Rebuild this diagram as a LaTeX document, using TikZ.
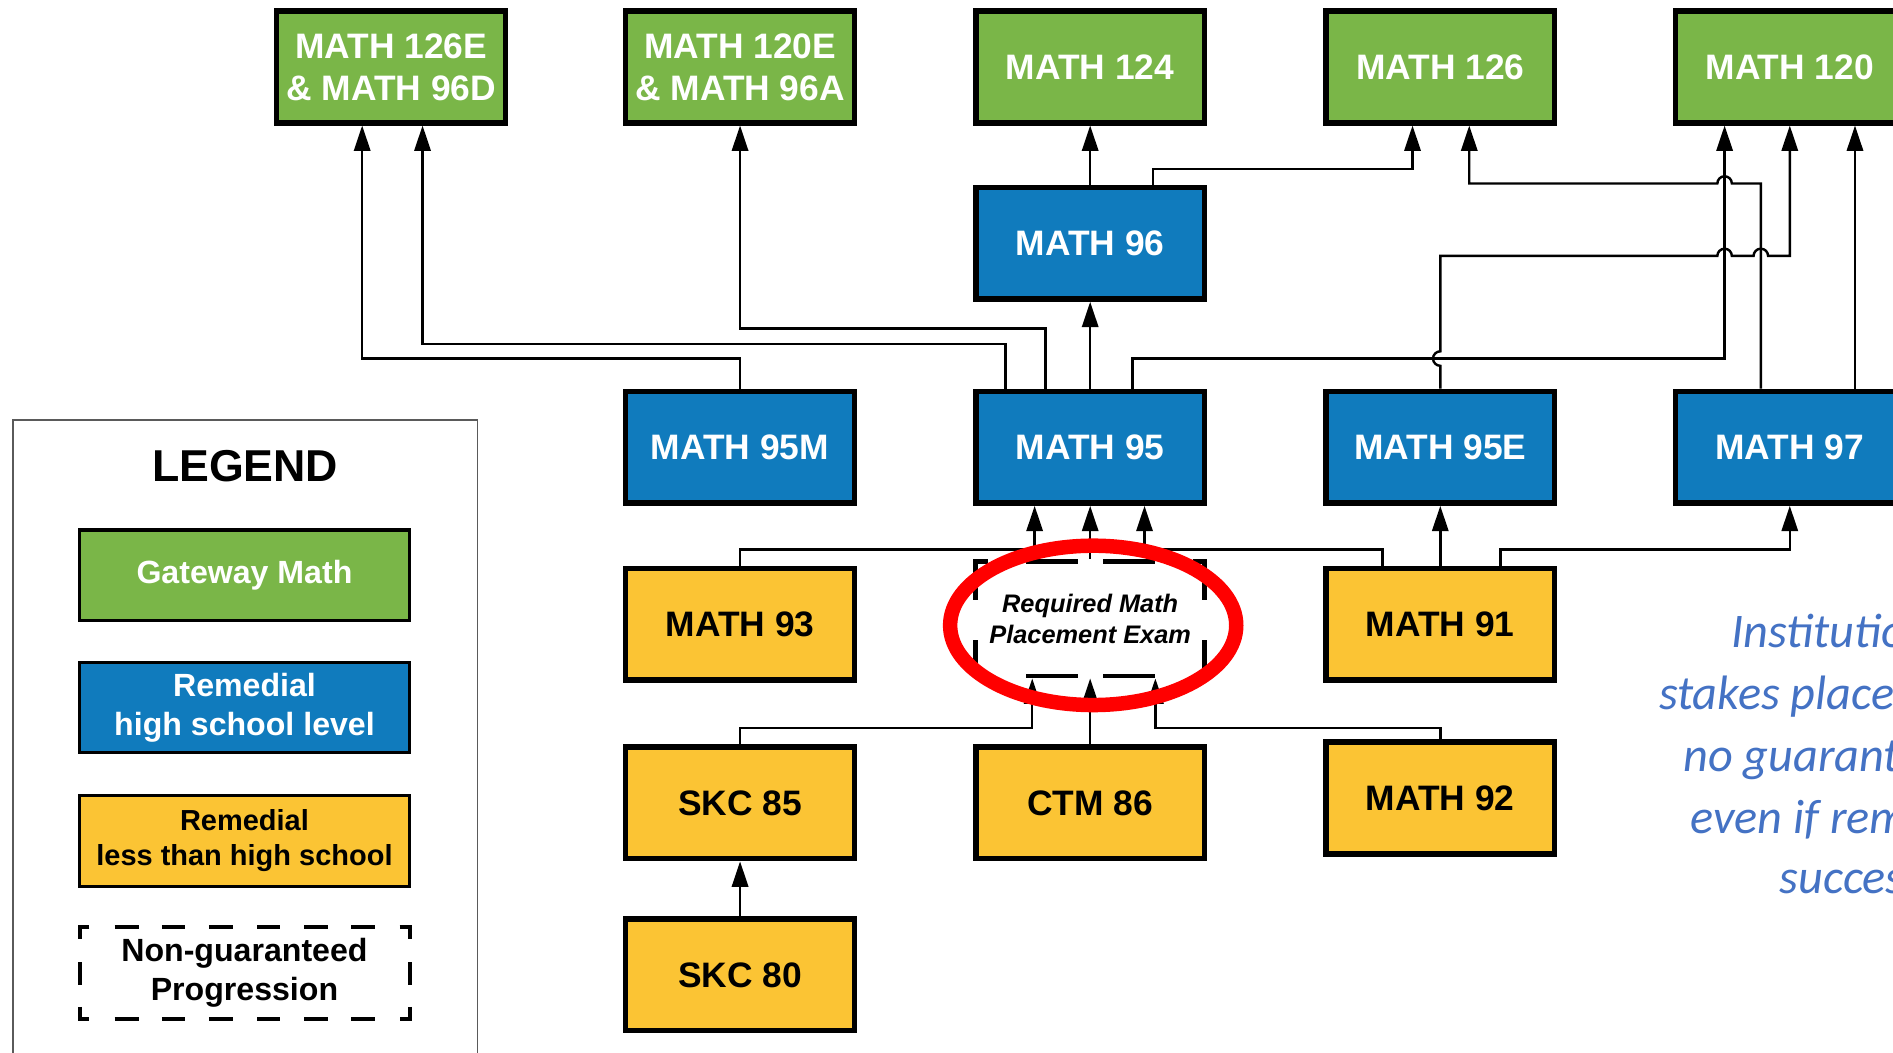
\documentclass[tikz,border=0pt]{standalone}
\usepackage{fontspec}
\setmainfont{Liberation Sans}
\newfontfamily\calibfont{Carlito}
\usetikzlibrary{arrows.meta}
\definecolor{gwgreen}{RGB}{122,182,72}
\definecolor{remblue}{RGB}{16,123,189}
\definecolor{lowyellow}{RGB}{251,196,52}
\definecolor{notecol}{RGB}{68,114,196}
\definecolor{legline}{RGB}{90,90,90}
\tikzset{
  box/.style={draw=black, line width=4.5pt, minimum width=189.5pt, minimum height=92.5pt,
    inner sep=0pt, align=center, font=\fontsize{29.3}{35}\selectfont\bfseries},
  gw/.style={box, fill=gwgreen, text=white},
  rem/.style={box, fill=remblue, text=white},
  low/.style={box, fill=lowyellow, text=black},
  legbox/.style={draw=black, line width=2.5pt, minimum width=274pt, minimum height=75pt,
    inner sep=0pt, align=center, font=\fontsize{26.6}{32}\selectfont\bfseries},
  conn/.style={line width=2pt, -{Triangle[length=21pt,width=13.5pt]}},
  dashseg/.style={line width=4pt, line join=miter},
  legdash/.style={line width=3.5pt, line join=miter},
  note/.style={anchor=base west, inner sep=0pt, text=notecol,
    font=\calibfont\itshape\fontsize{40}{51}\selectfont}
}
\begin{document}
\begin{tikzpicture}[x=1pt, y=-1pt]
\useasboundingbox (0,0) rectangle (1568,872);
\clip (0,0) rectangle (1568,872);

% ---------- legend ----------
\draw[line width=1.5pt, draw=legline] (10.5,348) rectangle (395.5,900);
\node[font=\fontsize{37}{44}\selectfont\bfseries] (legtitle) at (203,386) {LEGEND};
\node[legbox, fill=gwgreen, text=white] (lgw) at (202.5,476.5) {Gateway Math};
\node[legbox, fill=remblue, text=white] (lrem) at (202.5,586) {Remedial\\high school level};
\node[legbox, fill=lowyellow, text=black, font=\fontsize{24}{29}\selectfont\bfseries] (llow) at (202.5,696.5) {Remedial\\less than high school};
\node[legbox, draw=none] (ldash) at (202.5,806) {Non-guaranteed\\Progression};
% dashed legend frame
\draw[legdash] (74,768) -- (66,768) -- (66,778);
\draw[legdash] (331,768) -- (339.5,768) -- (339.5,778);
\draw[legdash] (66,834) -- (66,844) -- (74,844);
\draw[legdash] (339.5,834) -- (339.5,844) -- (331,844);
\foreach \a/\b in {95/115,134/153,173/193,213/232,252/272,291/311}{
  \draw[legdash] (\a,768) -- (\b,768);
  \draw[legdash] (\a,844) -- (\b,844);
}
\draw[legdash] (66,797) -- (66,816);
\draw[legdash] (339.5,797) -- (339.5,816);

% ---------- course boxes ----------
\node[gw] (m126e) at (324,55.5) {MATH 126E\\\& MATH 96D};
\node[gw] (m120e) at (613,55.5) {MATH 120E\\\& MATH 96A};
\node[gw] (m124) at (903,55.5) {MATH 124};
\node[gw] (m126) at (1193,55.5) {MATH 126};
\node[gw] (m120) at (1482.5,55.5) {MATH 120};

\node[rem] (m96) at (903,201.5) {MATH 96};
\node[rem] (m95m) at (613,370.5) {MATH 95M};
\node[rem] (m95) at (903,370.5) {MATH 95};
\node[rem] (m95e) at (1193,370.5) {MATH 95E};
\node[rem] (m97) at (1482.5,370.5) {MATH 97};

\node[low] (m93) at (613,517) {MATH 93};
\node[low] (m91) at (1193,517) {MATH 91};
\node[low] (skc85) at (613,665) {SKC 85};
\node[low] (ctm86) at (903,665) {CTM 86};
\node[low] (m92) at (1193,661) {MATH 92};
\node[low] (skc80) at (613,807.5) {SKC 80};

% placement exam (dashed, non-guaranteed)
\node[minimum width=194pt, minimum height=99pt, inner sep=0pt, outer sep=0pt, align=center,
  font=\fontsize{21}{26}\selectfont\bfseries\itshape] (exam) at (903,512.5) {Required Math\\Placement Exam};
\draw[dashseg] (818,465) -- (808,465) -- (808,497);
\draw[dashseg] (988,465) -- (998,465) -- (998,497);
\draw[dashseg] (818,560) -- (808,560) -- (808,530);
\draw[dashseg] (988,560) -- (998,560) -- (998,530);
\foreach \a/\b in {850/893,914/957}{
  \draw[dashseg] (\a,465) -- (\b,465);
  \draw[dashseg] (\a,560) -- (\b,560);
}

% ---------- connectors (upper) ----------
\draw[conn] (m95m.north) -- (613,297) -| ([xshift=-24pt]m126e.south);
\draw[conn] ([xshift=-70pt]m95.north) -- (833,285) -| ([xshift=26pt]m126e.south);
\draw[conn] ([xshift=-37pt]m95.north) -- (866,272) -| (m120e.south);
\draw[conn] (m95.north) -- (m96.south);
\draw[conn] ([xshift=35pt]m95.north) -- (938,297) -| ([xshift=-54pt]m120.south);
\draw[conn] (m96.north) -- (m124.south);
\draw[conn] ([xshift=52pt]m96.north) -- (955,140) -| ([xshift=-23pt]m126.south);
\draw[conn] ([xshift=-24pt]m97.north) -- (1458.5,152) -- (1434.5,152) arc (0:-180:6)
  -- (1217,152) -- ([xshift=24pt]m126.south);
\draw[conn] (m95e.north) -- (1193,303) arc (90:270:6) -- (1193,212) -- (1422.5,212)
  arc (180:360:6) -- (1452.5,212) arc (180:360:6) -- (1482.5,212) -- (m120.south);
\draw[conn] ([xshift=54pt]m97.north) -- ([xshift=54pt]m120.south);

% ---------- connectors (lower) ----------
\draw[conn] (m93.north) -- (613,455) -| ([xshift=45pt]m95.south);
\draw[conn] ([xshift=-48pt]m91.north) -- (1145,455) -| ([xshift=-46pt]m95.south);
\draw[conn] (exam.north) -- (m95.south);
\draw[conn] (m91.north) -- (m95e.south);
\draw[conn] ([xshift=50pt]m91.north) -- (1243,455) -| (m97.south);
\draw[conn] (skc85.north) -- (613,603) -| ([xshift=-48pt]exam.south);
\draw[conn] (ctm86.north) -- (exam.south);
\draw[conn] (m92.north) -- (1193,603) -| ([xshift=54pt]exam.south);
\draw[conn] (skc80.north) -- (skc85.south);

% ---------- red highlight ----------
\draw[red, line width=12pt] (905.5,518) ellipse [x radius=118.5, y radius=66];

% ---------- side note (cut off at the right edge, as in the reference) ----------
\node[note] (n1) at (1434,536) {Institutional};
\node[note] (n2) at (1374,588) {stakes placement};
\node[note] (n3) at (1394,639) {no guarantee};
\node[note] (n4) at (1400,690) {even if remediation};
\node[note] (n5) at (1474,740) {successful};
\end{tikzpicture}
\end{document}
